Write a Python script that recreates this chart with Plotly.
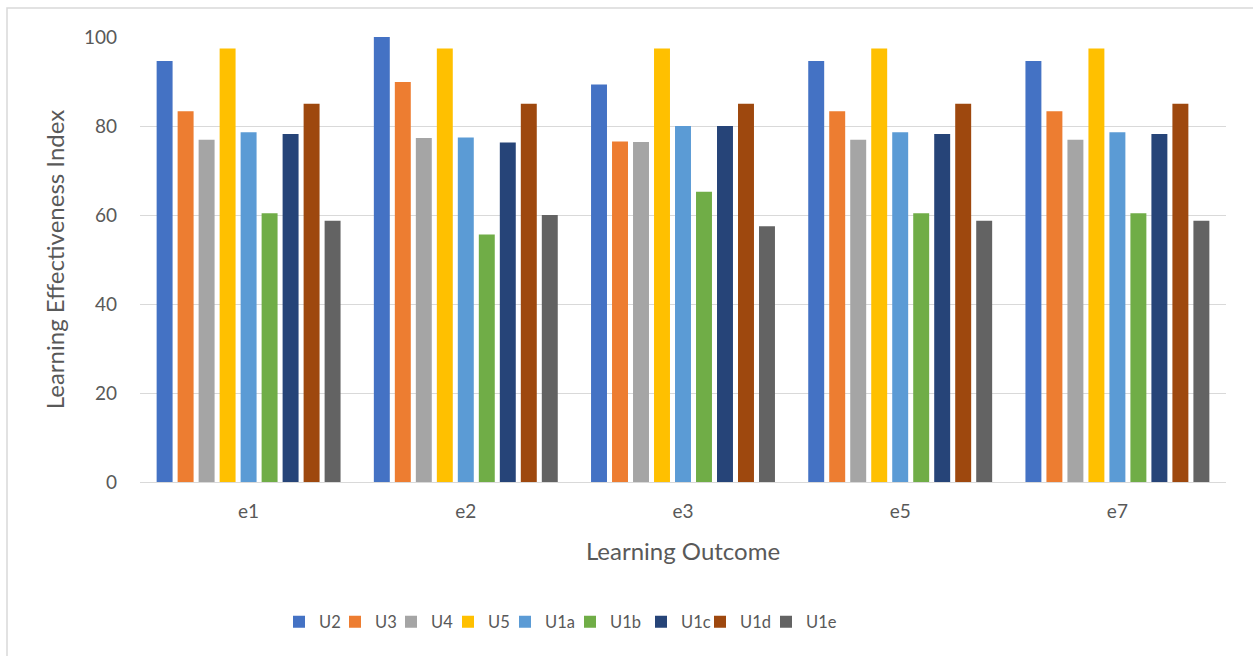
import plotly.graph_objects as go

categories = ["e1", "e2", "e3", "e5", "e7"]
series_names = ["U2", "U3", "U4", "U5", "U1a", "U1b", "U1c", "U1d", "U1e"]
U2 = [94.6, 100.0, 89.3, 94.6, 94.6]
U3 = [83.3, 89.9, 76.5, 83.3, 83.3]
U4 = [76.9, 77.3, 76.4, 76.9, 76.9]
U5 = [97.4, 97.4, 97.4, 97.4, 97.4]
U1a = [78.6, 77.4, 80.0, 78.6, 78.6]
U1b = [60.4, 55.6, 65.2, 60.4, 60.4]
U1c = [78.2, 76.3, 80.0, 78.2, 78.2]
U1d = [85.0, 85.0, 85.0, 85.0, 85.0]
U1e = [58.7, 60.0, 57.5, 58.7, 58.7]
series_values = [U2, U3, U4, U5, U1a, U1b, U1c, U1d, U1e]
colors = ["#4472C4", "#ED7D31", "#A5A5A5", "#FFC000", "#5B9BD5",
          "#70AD47", "#264478", "#9E480E", "#636363"]
y_ticks = [0, 20, 40, 60, 80, 100]

FONT = "Lato"
TXT = "#595959"

W, H = 1253, 656
ml, mr, mt, mb = 140, 27, 37, 174
pw, ph = W - ml - mr, H - mt - mb

# pixel x of each legend entry symbol in the reference (layout positions)
legend_px = [319, 370, 421, 473, 525, 585, 651, 705, 766]
legend_extra = 5      # extra pitch per entry (plotly symbol-text gap is wider)
legend_y_px = 622

fig = go.Figure()
legend_layouts = {}
for i, (name, vals, col) in enumerate(zip(series_names, series_values, colors)):
    lname = "legend" if i == 0 else f"legend{i + 1}"
    fig.add_trace(go.Bar(name=name, x=categories, y=vals,
                         marker=dict(color=col, line=dict(width=0)),
                         legend=lname, hoverinfo="x+y+name"))
    sym_x = legend_px[i] + legend_extra * (i - 4) - 6
    legend_layouts[lname] = dict(
        orientation="h",
        x=(sym_x - 14 - ml) / pw, xanchor="left",
        y=-(legend_y_px - (H - mb)) / ph, yanchor="middle",
        bgcolor="rgba(0,0,0,0)", borderwidth=0, itemwidth=30,
        font=dict(family=FONT, size=16.5, color=TXT))

fig.update_layout(
    width=W, height=H,
    margin=dict(l=ml, r=mr, t=mt, b=mb),
    paper_bgcolor="white", plot_bgcolor="white",
    barmode="group", bargap=0.13, bargroupgap=0.24,
    font=dict(family=FONT, color=TXT, size=19),
    showlegend=True,
    xaxis=dict(showgrid=False, showline=True, linecolor="#D9D9D9", linewidth=1,
               ticks="", ticklabelstandoff=12,
               tickfont=dict(family=FONT, size=19, color=TXT),
               title=dict(text="Learning Outcome", standoff=22,
                          font=dict(family=FONT, size=24, color=TXT))),
    yaxis=dict(range=[0, 100], tickvals=y_ticks, showgrid=True, gridcolor="#D9D9D9",
               gridwidth=1, zeroline=False, showline=False, ticks="",
               ticklabelstandoff=22,
               tickfont=dict(family=FONT, size=19, color=TXT),
               title=dict(text="Learning Effectiveness Index", standoff=12,
                          font=dict(family=FONT, size=24, color=TXT))),
    **legend_layouts,
)

# outer chart border (Excel chart area frame), partly cropped at right/bottom
fig.add_shape(type="rect", xref="paper", yref="paper",
              x0=(7 - ml) / pw, x1=(W + 10 - ml) / pw,
              y0=-(mb + 10) / ph, y1=(H - mb - 8) / ph,
              line=dict(color="#D9D9D9", width=1.5), fillcolor="rgba(0,0,0,0)",
              layer="below")

fig.write_html("out.html")
